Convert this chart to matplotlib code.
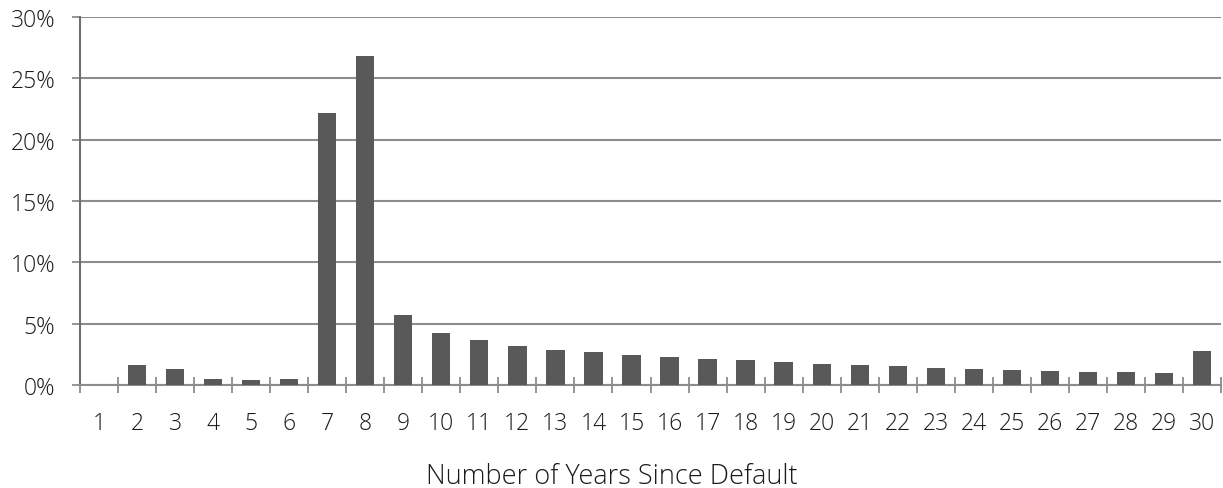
import numpy as np
import matplotlib
matplotlib.use('Agg')
import matplotlib.pyplot as plt
from matplotlib.ticker import FixedLocator, FuncFormatter

# years since default and share of recoveries (%)
years = list(range(1, 31))
share = [0.0, 1.65, 1.28, 0.46, 0.38, 0.49, 22.2, 26.8, 5.7, 4.26,
         3.69, 3.2, 2.83, 2.66, 2.47, 2.31, 2.15, 2.01, 1.88, 1.74,
         1.6, 1.52, 1.41, 1.3, 1.22, 1.16, 1.08, 1.03, 0.95, 2.77]
y_ticks = [0, 5, 10, 15, 20, 25, 30]

plt.rcParams['font.family'] = ['Open Sans', 'DejaVu Sans']
plt.rcParams['font.weight'] = 'light'

fig = plt.figure(figsize=(12.23, 4.89), dpi=100)
ax = fig.add_axes([80/1223, (489-386)/489, (1221-80)/1223, (386-18)/489])

x = np.arange(len(years))
ax.bar(x, share, width=0.48, color='#595959', zorder=3)

ax.set_xlim(-0.5, len(years) - 0.5)
ax.set_ylim(0, 30)

ax.set_yticks(y_ticks)
ax.yaxis.set_major_formatter(FuncFormatter(lambda v, p: '%d%%' % v))
ax.yaxis.grid(True, color='#8c8c8c', linewidth=1.5, zorder=0)
ax.tick_params(axis='y', length=5.8, width=1.3, color='#8c8c8c', pad=12,
               labelsize=16.5, labelcolor='#1a1a1a')

ax.set_xticks(x)
ax.set_xticklabels([str(v) for v in years])
ax.xaxis.set_minor_locator(FixedLocator(np.arange(-0.5, len(years), 1.0)))
ax.tick_params(axis='x', which='major', length=0, pad=18.5,
               labelsize=16.5, labelcolor='#1a1a1a')
ax.tick_params(axis='x', which='minor', direction='inout', length=11.5,
               width=1.3, color='#8c8c8c')

for s in ['top', 'right']:
    ax.spines[s].set_visible(False)
ax.spines['left'].set_color('#6f6f6f')
ax.spines['left'].set_linewidth(1.5)
ax.spines['bottom'].set_color('#8c8c8c')
ax.spines['bottom'].set_linewidth(1.5)

# x title is centred on the whole figure, not on the axes
fig.text(0.5, 5/489, 'Number of Years Since Default', fontsize=19.5,
         color='#1a1a1a', ha='center', va='baseline')

fig.savefig('out.png', dpi=100)
